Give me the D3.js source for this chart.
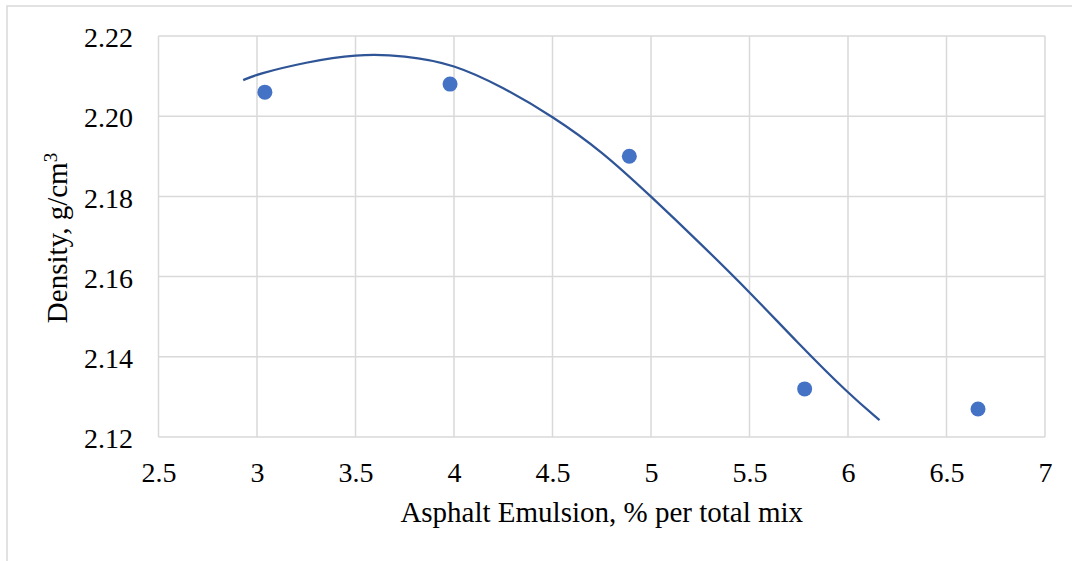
<!DOCTYPE html>
<html>
<head>
<meta charset="utf-8">
<script src="https://cdn.jsdelivr.net/npm/d3@7"></script>
<style>
  html, body { margin: 0; padding: 0; background: #fff; }
  svg { display: block; }
</style>
</head>
<body>
<svg id="chart" width="1072" height="561"></svg>
<script>
// Measured density per asphalt emulsion content
const emulsion = [3.04, 3.98, 4.89, 5.78, 6.66];
const density = [2.206, 2.208, 2.190, 2.132, 2.127];

// Fitted density curve, sampled along its length
const fitEmulsion = [2.93, 3.0, 3.25, 3.5, 3.75, 4.0, 4.25, 4.5, 4.75, 5.0, 5.25, 5.5, 5.75, 6.0, 6.16];
const fitDensity = [2.2090, 2.2105, 2.2135, 2.2155, 2.2152, 2.2130, 2.2072, 2.2000, 2.1913, 2.1800, 2.1683, 2.1562, 2.1432, 2.1309, 2.1242];

// Axis ticks
const xTicks = [2.5, 3, 3.5, 4, 4.5, 5, 5.5, 6, 6.5, 7];
const yTicks = [2.12, 2.14, 2.16, 2.18, 2.20, 2.22];

const FONT = "'Liberation Serif', 'Times New Roman', serif";

const svg = d3.select("#chart");
const plot = { left: 158.5, right: 1045, top: 36, bottom: 437 };

const x = d3.scaleLinear().domain([2.5, 7]).range([plot.left, plot.right]);
const y = d3.scaleLinear().domain([2.12, 2.22]).range([plot.bottom, plot.top]);

// Chart frame
svg.append("rect")
  .attr("x", 7).attr("y", 6)
  .attr("width", 1100).attr("height", 600)
  .attr("fill", "#fff")
  .attr("stroke", "#d9d9d9").attr("stroke-width", 1.5);

// Gridlines
svg.append("g")
  .selectAll("line").data(xTicks).join("line")
  .attr("x1", d => x(d)).attr("x2", d => x(d))
  .attr("y1", plot.top).attr("y2", plot.bottom)
  .attr("stroke", "#d9d9d9").attr("stroke-width", 1.5);

svg.append("g")
  .selectAll("line").data(yTicks).join("line")
  .attr("x1", plot.left).attr("x2", plot.right)
  .attr("y1", d => y(d)).attr("y2", d => y(d))
  .attr("stroke", "#d9d9d9").attr("stroke-width", 1.5);

// Tick labels via d3 axes (domain and tick marks hidden)
const xAxis = svg.append("g")
  .attr("transform", `translate(0,${plot.bottom})`)
  .call(d3.axisBottom(x).tickValues(xTicks).tickSize(0).tickPadding(25)
    .tickFormat(d => String(d)));
const yAxis = svg.append("g")
  .attr("transform", `translate(${plot.left},0)`)
  .call(d3.axisLeft(y).tickValues(yTicks).tickSize(0).tickPadding(25.5)
    .tickFormat(d3.format(".2f")));
[xAxis, yAxis].forEach(g => {
  g.select(".domain").remove();
  g.attr("font-family", null).attr("font-size", null);
  g.selectAll("text")
    .style("font-family", FONT)
    .style("font-size", "28px")
    .attr("fill", "#000");
});
yAxis.selectAll("text").attr("dy", "0.38em");

// Fitted curve
const line = d3.line()
  .x((d, i) => x(fitEmulsion[i]))
  .y(d => y(d))
  .curve(d3.curveBasis);
svg.append("path")
  .attr("d", line(fitDensity))
  .attr("fill", "none")
  .attr("stroke", "#2f5597")
  .attr("stroke-width", 2.25);

// Measured points
svg.append("g")
  .selectAll("circle").data(density).join("circle")
  .attr("cx", (d, i) => x(emulsion[i]))
  .attr("cy", d => y(d))
  .attr("r", 7.5)
  .attr("fill", "#4472c4");

// Axis titles
svg.append("text")
  .attr("x", (plot.left + plot.right) / 2)
  .attr("y", 522)
  .attr("text-anchor", "middle")
  .style("font-family", FONT)
  .style("font-size", "29px")
  .text("Asphalt Emulsion, % per total mix");

const yTitle = svg.append("text")
  .attr("transform", `translate(66.5,238) rotate(-90)`)
  .attr("text-anchor", "middle")
  .style("font-family", FONT)
  .style("font-size", "29px");
yTitle.append("tspan").text("Density, g/cm");
yTitle.append("tspan").attr("dy", -10).style("font-size", "19px").text("3");
</script>
</body>
</html>
